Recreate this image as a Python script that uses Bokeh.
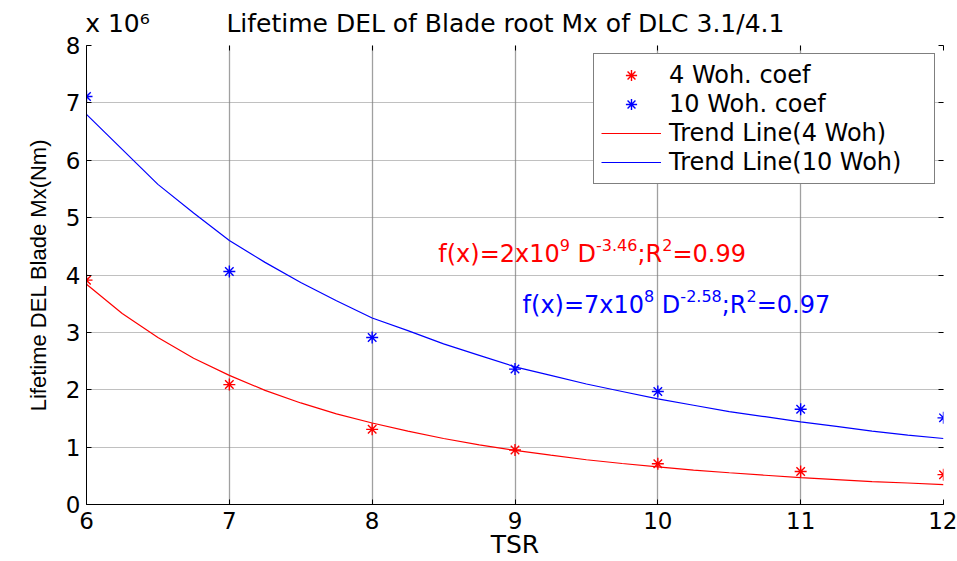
from bokeh.plotting import figure
from bokeh.models import (Range1d, LinearAxis, Label, Legend, LegendItem,
                          FixedTicker, CustomJSTickFormatter)
from bokeh.embed import file_html
from bokeh.resources import INLINE

# ---------------- data (values in units of 1e6 Nm) ----------------
tsr = [6, 7, 8, 9, 10, 11, 12]
del_4woh = [3.91, 2.09, 1.31, 0.95, 0.71, 0.575, 0.52]
del_10woh = [7.11, 4.06, 2.91, 2.36, 1.97, 1.66, 1.51]

trend_tsr = [6.0, 6.25, 6.5, 6.75, 7.0, 7.25, 7.5, 7.75, 8.0, 8.25, 8.5, 8.75,
             9.0, 9.25, 9.5, 9.75, 10.0, 10.25, 10.5, 10.75, 11.0, 11.25,
             11.5, 11.75, 12.0]
trend_4woh = [3.84, 3.33, 2.91, 2.55, 2.25, 1.99, 1.77, 1.58, 1.42, 1.28,
              1.15, 1.04, 0.944, 0.86, 0.78, 0.715, 0.656, 0.60, 0.553,
              0.51, 0.47, 0.435, 0.40, 0.375, 0.348]
trend_10woh = [6.80, 6.19, 5.58, 5.08, 4.60, 4.22, 3.87, 3.55, 3.25, 3.03,
               2.80, 2.60, 2.40, 2.25, 2.10, 1.97, 1.84, 1.73, 1.62, 1.53,
               1.44, 1.36, 1.28, 1.21, 1.15]

x_ticks = [6, 7, 8, 9, 10, 11, 12]
y_ticks = [0, 1, 2, 3, 4, 5, 6, 7, 8]

title_text = "Lifetime DEL of Blade root Mx of DLC 3.1/4.1"
scale_text = "x 10\u2076"
x_label = "TSR"
y_label = "Lifetime DEL Blade Mx(Nm)"
legend_labels = ["4 Woh. coef", "10 Woh. coef", "Trend Line(4 Woh)", "Trend Line(10 Woh)"]
fit_4woh = [("f(x)=2x10", False), ("9", True), ("D", False), ("-3.46", True),
            (";R", False), ("2", True), ("=0.99", False)]
fit_10woh = [("f(x)=7x10", False), ("8", True), ("D", False), ("-2.58", True),
             (";R", False), ("2", True), ("=0.97", False)]

# ---------------- style ----------------
FONT = "DejaVu Sans"
RED = "#ff0000"
BLUE = "#0000ff"
MAIN_PX = 24
SUP_PX = 16
SCALE_POS = 6.217   # x position (data units) of the "x 10^6" text centre
TITLE_POS = 8.933   # x position (data units) of the title centre

p = figure(width=957, height=561, output_backend="svg", toolbar_location=None,
           x_range=Range1d(6, 12), y_range=Range1d(0, 8), title=None,
           min_border_left=86, min_border_right=14, min_border_top=45,
           min_border_bottom=57, background_fill_color="white",
           border_fill_color="white")
p.outline_line_color = None

# axes
for ax in (p.xaxis[0], p.yaxis[0]):
    ax.axis_line_color = "black"
    ax.major_tick_line_color = "black"
    ax.major_tick_in = 5
    ax.major_tick_out = 0
    ax.minor_tick_line_color = None
    ax.major_label_text_font = FONT
    ax.major_label_text_font_size = "23px"
    ax.major_label_text_color = "black"
p.xaxis.ticker = FixedTicker(ticks=x_ticks)
p.yaxis.ticker = FixedTicker(ticks=y_ticks)
p.xaxis.major_label_standoff = 7
p.yaxis.major_label_standoff = 6
p.yaxis.axis_label = y_label
p.yaxis.axis_label_text_font = "Liberation Sans"
p.yaxis.axis_label_text_font_size = "22px"
p.yaxis.axis_label_text_font_style = "normal"
p.yaxis.axis_label_text_color = "black"
p.yaxis.axis_label_standoff = 12
p.xaxis.axis_label = x_label
p.xaxis.axis_label_text_font = FONT
p.xaxis.axis_label_text_font_size = "25px"
p.xaxis.axis_label_text_font_style = "normal"
p.xaxis.axis_label_text_color = "black"
p.xaxis.axis_label_standoff = -2

# inward ticks on the top and right edges (no labels)
blank = CustomJSTickFormatter(code="return ''")
top_ax = LinearAxis(ticker=FixedTicker(ticks=x_ticks), formatter=blank,
                    axis_line_color=None, major_tick_in=5, major_tick_out=0,
                    major_label_standoff=0, major_label_text_font_size="1px",
                    minor_tick_line_color=None, major_tick_line_color="black")
right_ax = LinearAxis(ticker=FixedTicker(ticks=y_ticks), formatter=blank,
                      axis_line_color=None, major_tick_in=5, major_tick_out=0,
                      major_label_standoff=0, major_label_text_font_size="1px",
                      minor_tick_line_color=None, major_tick_line_color="black")
p.add_layout(top_ax, "above")
p.add_layout(right_ax, "right")

# title and the "x 10^6" scale factor on one line above the frame
head_ax = LinearAxis(ticker=FixedTicker(ticks=[SCALE_POS, TITLE_POS]),
                     major_label_overrides={SCALE_POS: scale_text, TITLE_POS: title_text},
                     axis_line_color=None, major_tick_line_color=None,
                     minor_tick_line_color=None, major_tick_in=0, major_tick_out=0,
                     major_label_standoff=8, major_label_text_font=FONT,
                     major_label_text_font_size="25px", major_label_text_color="black")
p.add_layout(head_ax, "above")

# grids
p.xgrid.ticker = FixedTicker(ticks=x_ticks)
p.ygrid.ticker = FixedTicker(ticks=y_ticks)
p.xgrid.grid_line_color = "#a0a0a0"
p.xgrid.grid_line_width = 1.3
p.ygrid.grid_line_color = "#808080"
p.ygrid.grid_line_dash = "1 1"
p.ygrid.grid_line_width = 1.2

# data
r_line4 = p.line(trend_tsr, trend_4woh, line_color=RED, line_width=1.2)
r_line10 = p.line(trend_tsr, trend_10woh, line_color=BLUE, line_width=1.2)
r_pts4 = p.scatter(tsr, del_4woh, marker="asterisk", size=12, line_color=RED, line_width=1.4)
r_pts10 = p.scatter(tsr, del_10woh, marker="asterisk", size=12, line_color=BLUE, line_width=1.4)

legend = Legend(items=[LegendItem(label=legend_labels[0], renderers=[r_pts4]),
                       LegendItem(label=legend_labels[1], renderers=[r_pts10]),
                       LegendItem(label=legend_labels[2], renderers=[r_line4]),
                       LegendItem(label=legend_labels[3], renderers=[r_line10])],
                location="top_right")
legend.margin = 8
legend.padding = 7
legend.spacing = 1
legend.label_height = 28
legend.label_width = 258
legend.glyph_height = 28
legend.glyph_width = 60
legend.label_standoff = 8
legend.label_text_font = FONT
legend.label_text_font_size = "24px"
legend.label_text_color = "black"
legend.border_line_color = "black"
legend.border_line_width = 1
legend.background_fill_color = "white"
legend.background_fill_alpha = 1
p.add_layout(legend, "center")

# fit equations built from pieces (superscripts smaller and raised)
ADV = {' ': 0.318, '(': 0.390, ')': 0.390, '-': 0.361, '.': 0.318, ';': 0.337,
       '=': 0.838, 'D': 0.770, 'R': 0.695, 'f': 0.352, 'x': 0.592}
for d in "0123456789":
    ADV[d] = 0.636


def width(s, px):
    return sum(ADV.get(c, 0.6) for c in s) * px


def equation(pieces, cx, cy, color):
    total = 0.0
    spans = []
    for txt, sup in pieces:
        if txt == "D":
            total += ADV[' '] * MAIN_PX
        px = SUP_PX if sup else MAIN_PX
        spans.append((txt, sup, total))
        total += width(txt, px)
    start = -total / 2
    for txt, sup, off in spans:
        p.add_layout(Label(x=cx, y=cy, x_offset=start + off, y_offset=15 if sup else 6,
                           text=txt, text_align="left", text_baseline="alphabetic",
                           text_font=FONT,
                           text_font_size=f"{SUP_PX if sup else MAIN_PX}px",
                           text_color=color))


equation(fit_4woh, 9.54, 4.27, RED)
equation(fit_10woh, 10.13, 3.38, BLUE)

open("out.html", "w").write(file_html(p, INLINE))
